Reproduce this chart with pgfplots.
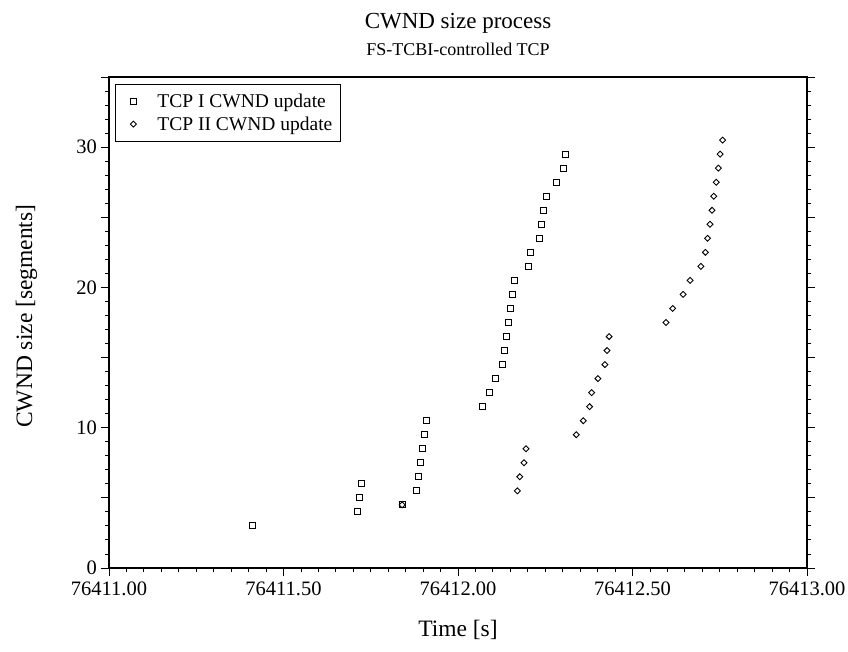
\documentclass[border=0pt]{standalone}
\usepackage{fontspec}
\setmainfont{Liberation Serif}
\usepackage{pgfplots}
\pgfplotsset{compat=1.18}
% x values are times in seconds after t0 = 76411.00 s (the ticks are labelled with the absolute time)
\begin{document}
\begin{tikzpicture}
\useasboundingbox (0,0) rectangle (848pt,651pt);
\begin{axis}[
  at={(109pt,83pt)}, anchor=south west,
  scale only axis, width=698pt, height=491pt,
  xmin=0, xmax=2, ymin=0, ymax=35,
  xtick={0,0.5,1,1.5,2},
  xticklabels={76411.00,76411.50,76412.00,76412.50,76413.00},
  minor x tick num=9,
  ytick={0,5,10,15,20,25,30,35},
  yticklabels={0,,10,,20,,30,},
  minor y tick num=4,
  tick align=outside, xtick pos=left, ytick pos=both, yticklabel pos=left,
  major tick length=7.5pt, minor tick length=4pt,
  every tick/.style={black, line width=0.9pt},
  axis line style={black, line width=1.3pt},
  ticklabel style={font=\fontsize{20.5}{24}\selectfont},
  xticklabel style={yshift=-3pt},
  yticklabel style={xshift=-1pt},
  every axis title shift=0pt,
  title={CWND size process},
  title style={font=\fontsize{23}{27}\selectfont, at={(axis description cs:0.5,1.0992)}, anchor=base},
  extra description/.code={\node[font=\fontsize{18}{22}\selectfont, anchor=base] at (0.5,1.0448) {FS-TCBI-controlled TCP};},
  xlabel={Time [s]},
  xlabel style={font=\fontsize{23.5}{28}\selectfont, at={(axis description cs:0.5,-0.126)}, anchor=center},
  ylabel={CWND size [segments]},
  ylabel style={font=\fontsize{23.5}{28}\selectfont, at={(axis description cs:-0.1103,0.513)}, anchor=base},
  legend style={at={(0.0086,0.986)}, anchor=north west, draw=black, line width=0.8pt,
    inner xsep=6pt, inner ysep=7.6pt, font=\fontsize{19.5}{23}\selectfont,
    nodes={inner sep=2pt}, column sep=13pt, row sep=3.7pt, cells={anchor=west}},
  legend image code/.code={\path[draw=none, fill=none] (-12pt,-3pt) rectangle (9pt,3pt); \draw[#1] plot coordinates {(0pt,0pt)};},
]
\addplot[only marks, mark=square, mark size=3pt, black, line width=0.9pt] coordinates {
(0.410,3) (0.711,4) (0.717,5) (0.723,6)
(0.840,4.5) (0.880,5.5) (0.886,6.5) (0.893,7.5) (0.899,8.5) (0.905,9.5) (0.911,10.5)
(1.070,11.5) (1.089,12.5) (1.106,13.5) (1.126,14.5) (1.132,15.5) (1.138,16.5)
(1.144,17.5) (1.150,18.5) (1.156,19.5) (1.163,20.5) (1.201,21.5) (1.207,22.5)
(1.232,23.5) (1.239,24.5) (1.245,25.5) (1.252,26.5) (1.283,27.5) (1.301,28.5) (1.308,29.5)
};
\addlegendentry{TCP I CWND update}
\addplot[only marks, mark=square, mark size=2.1pt, mark options={rotate=45}, black, line width=0.9pt] coordinates {
(0.840,4.5) (1.170,5.5) (1.177,6.5) (1.189,7.5) (1.195,8.5)
(1.339,9.5) (1.359,10.5) (1.377,11.5) (1.383,12.5) (1.401,13.5) (1.421,14.5) (1.427,15.5) (1.433,16.5)
(1.596,17.5) (1.615,18.5) (1.645,19.5) (1.665,20.5) (1.696,21.5) (1.709,22.5) (1.715,23.5)
(1.722,24.5) (1.728,25.5) (1.733,26.5) (1.740,27.5) (1.746,28.5) (1.751,29.5) (1.758,30.5)
};
\addlegendentry{TCP II CWND update}
\end{axis}
\end{tikzpicture}
\end{document}
